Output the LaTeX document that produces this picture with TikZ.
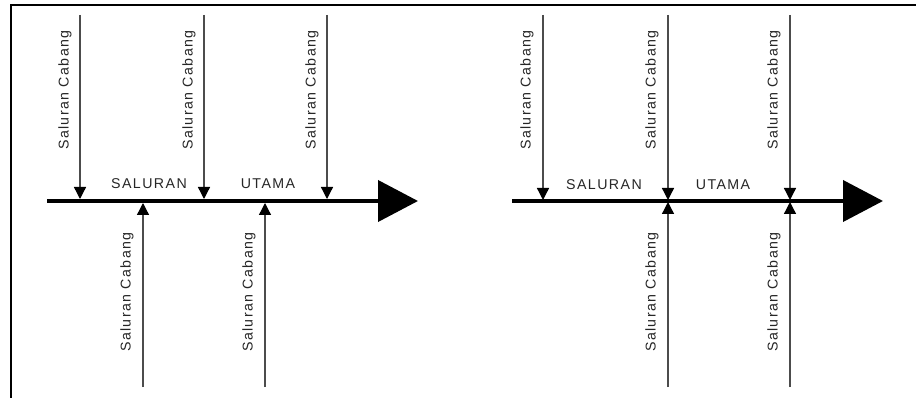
\documentclass[tikz,border=0pt]{standalone}
\usepackage{fontspec}
\setmainfont{Liberation Sans}[LetterSpace=10]
\usetikzlibrary{arrows.meta}
\begin{document}
\begin{tikzpicture}[x=1pt,y=-1pt,
  frameline/.style={line width=2.4pt,black},
  mainline/.style={line width=4pt,black,-{Triangle[length=40pt,width=41pt]}},
  branch/.style={line width=1.3pt,black!70,-{Triangle[length=12pt,width=12pt,black]}},
  lbl/.style={font=\fontsize{14.2}{15}\selectfont,text=black!85,inner sep=0pt},
  vlbl/.style={lbl,rotate=90}]
\useasboundingbox (0,0) rectangle (916,398);
% frame (left and top edges)
\coordinate (fa) at (11,398);
\coordinate (fb) at (11,5);
\coordinate (fc) at (916,5);
\draw[frameline] (fa) -- (fb) -- (fc);

% ---------- left diagram ----------
\coordinate (La) at (47,201);
\coordinate (Lb) at (418,201);
\draw[mainline] (La) -- (Lb);
\foreach \x/\n in {80/1,204/2,327/3}{
  \coordinate (LT\n s) at (\x,15);
  \coordinate (LT\n e) at (\x,199);
  \draw[branch] (LT\n s) -- (LT\n e);
  \node[vlbl] (LTl\n) at (\x-15,90) {Saluran Cabang};
}
\foreach \x/\n in {143/1,265/2}{
  \coordinate (LB\n s) at (\x,387);
  \coordinate (LB\n e) at (\x,203);
  \draw[branch] (LB\n s) -- (LB\n e);
  \node[vlbl] (LBl\n) at (\x-16,292) {Saluran Cabang};
}
\node[lbl] (Ls) at (149,184) {SALURAN};
\node[lbl] (Lu) at (268,184) {UTAMA};

% ---------- right diagram ----------
\coordinate (Ra) at (512,201);
\coordinate (Rb) at (883,201);
\draw[mainline] (Ra) -- (Rb);
\foreach \x/\n in {543/1,668/2,790/3}{
  \coordinate (RT\n s) at (\x,15);
  \coordinate (RT\n e) at (\x,200);
  \draw[branch] (RT\n s) -- (RT\n e);
  \node[vlbl] (RTl\n) at (\x-16,90) {Saluran Cabang};
}
\foreach \x/\n in {668/1,790/2}{
  \coordinate (RB\n s) at (\x,387);
  \coordinate (RB\n e) at (\x,202);
  \draw[branch] (RB\n s) -- (RB\n e);
  \node[vlbl] (RBl\n) at (\x-16,292) {Saluran Cabang};
}
\node[lbl] (Rs) at (604,185) {SALURAN};
\node[lbl] (Ru) at (723,185) {UTAMA};
\end{tikzpicture}
\end{document}
